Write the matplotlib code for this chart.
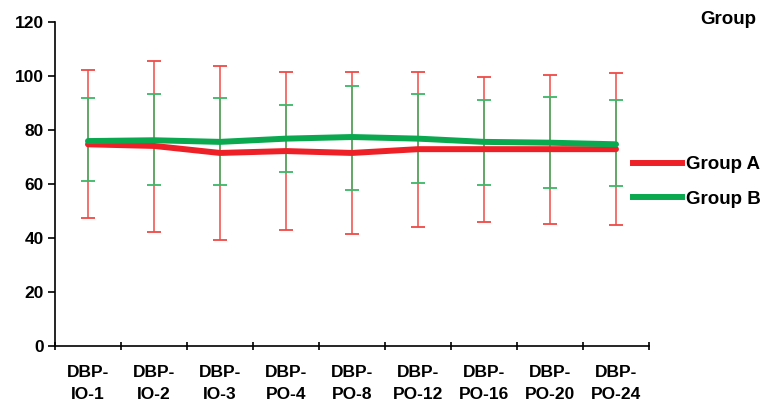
import numpy as np
import matplotlib.pyplot as plt
from matplotlib.lines import Line2D

plt.rcParams['font.family'] = ['Liberation Sans', 'DejaVu Sans']
plt.rcParams['font.weight'] = 'bold'

categories = ['DBP-\nIO-1', 'DBP-\nIO-2', 'DBP-\nIO-3', 'DBP-\nPO-4', 'DBP-\nPO-8',
              'DBP-\nPO-12', 'DBP-\nPO-16', 'DBP-\nPO-20', 'DBP-\nPO-24']

# group A: mean, lower and upper whisker ends
a_mean = [74.7, 74.1, 71.5, 72.2, 71.5, 72.9, 72.9, 72.9, 72.9]
a_low = [47.5, 42.1, 39.4, 42.8, 41.5, 44.0, 45.8, 45.2, 44.9]
a_high = [102.2, 105.6, 103.7, 101.6, 101.6, 101.6, 99.7, 100.4, 101.0]

# group B
b_mean = [75.9, 76.2, 75.6, 76.8, 77.4, 76.8, 75.6, 75.3, 74.7]
b_low = [61.1, 59.7, 59.7, 64.3, 57.9, 60.3, 59.7, 58.5, 59.1]
b_high = [91.7, 93.2, 91.7, 89.2, 96.4, 93.2, 91.1, 92.3, 91.1]

red = '#ee2027'
green = '#0aa84f'

fig = plt.figure(figsize=(7.69, 4.11), dpi=100)
ax = fig.add_axes([55 / 769, 65 / 411, 594 / 769, 324 / 411])

x = np.arange(len(categories))

a_err = [np.array(a_mean) - np.array(a_low), np.array(a_high) - np.array(a_mean)]
b_err = [np.array(b_mean) - np.array(b_low), np.array(b_high) - np.array(b_mean)]

ax.errorbar(x, a_mean, yerr=a_err, fmt='none', ecolor='#f04a45', elinewidth=1.1,
            capsize=5, capthick=1.3, zorder=2)
ax.errorbar(x, b_mean, yerr=b_err, fmt='none', ecolor='#3cb867', elinewidth=1.1,
            capsize=5, capthick=1.3, zorder=3)
ax.plot(x, a_mean, color=red, lw=4.3, solid_capstyle='round', zorder=4)
ax.plot(x, b_mean, color=green, lw=4.3, solid_capstyle='round', zorder=5)

ax.set_xlim(-0.5, len(categories) - 0.5)
ax.set_ylim(0, 120)
ax.set_yticks(range(0, 121, 20))
ax.set_xticks(x)
ax.set_xticklabels(categories, fontsize=12.5, fontweight='bold', linespacing=1.55)
ax.set_xticks(np.arange(-0.5, len(categories)), minor=True)
ax.tick_params(axis='x', which='major', length=0, pad=14)
ax.tick_params(axis='x', which='minor', length=6, direction='inout', width=1.2)
ax.tick_params(axis='y', length=5, width=1.2, labelsize=12.5, pad=3)
for lab in ax.get_yticklabels():
    lab.set_fontweight('bold')

for s in ['top', 'right']:
    ax.spines[s].set_visible(False)
for s in ['left', 'bottom']:
    ax.spines[s].set_linewidth(1.2)

fig.text(728 / 769, 1 - 20 / 411, 'Group', ha='center', va='center',
         fontsize=13.5, fontweight='bold')

handles = [Line2D([0], [0], color=red, lw=4.3), Line2D([0], [0], color=green, lw=4.3)]
fig.legend(handles, ['Group A', 'Group B'], loc='center left',
           bbox_to_anchor=(633 / 769, 1 - 182 / 411), frameon=False,
           prop={'weight': 'bold', 'size': 13.5},
           handlelength=2.6, handletextpad=0.25, labelspacing=0.95,
           borderpad=0, borderaxespad=0)

fig.savefig('out.png', dpi=100)
